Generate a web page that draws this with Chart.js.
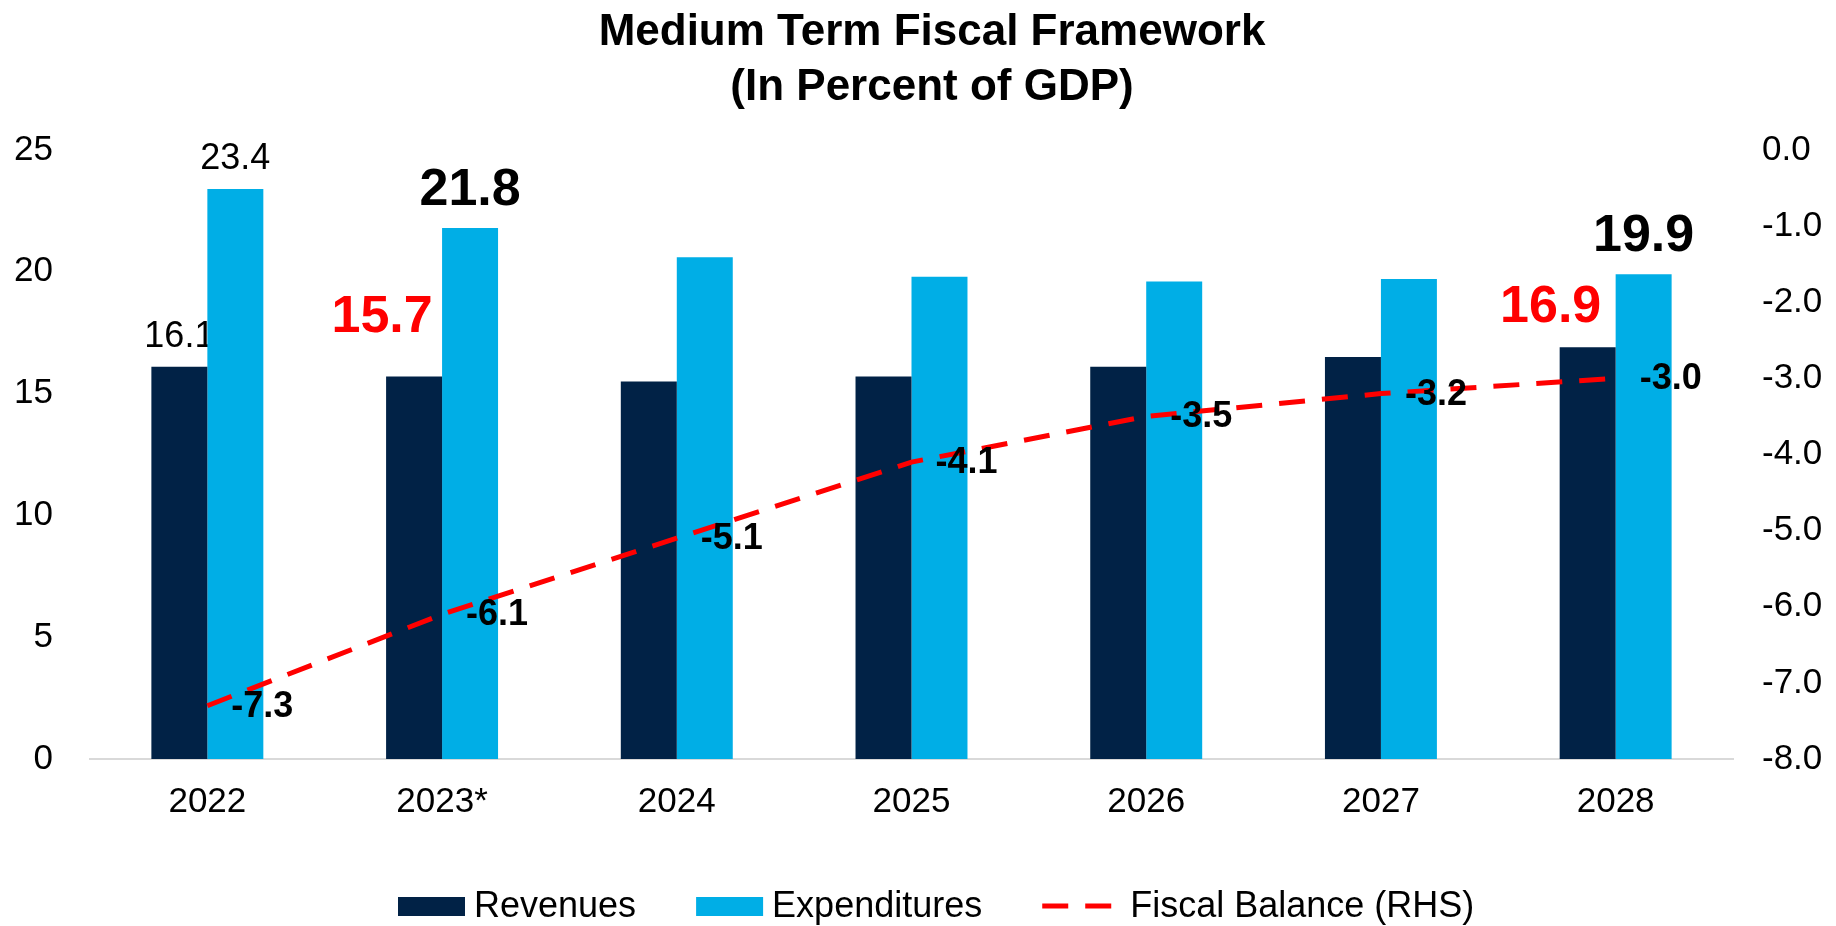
<!DOCTYPE html>
<html>
<head>
<meta charset="utf-8">
<title>Medium Term Fiscal Framework</title>
<script src="https://cdn.jsdelivr.net/npm/chart.js@4.4.0/dist/chart.umd.min.js"></script>
<style>
  html, body { margin: 0; padding: 0; background: #fff; }
</style>
</head>
<body>
<canvas id="fiscalChart" width="1836" height="926"></canvas>
<script>
// data
const years = ["2022", "2023*", "2024", "2025", "2026", "2027", "2028"];
const revenues = [16.1, 15.7, 15.5, 15.7, 16.1, 16.5, 16.9];
const expenditures = [23.4, 21.8, 20.6, 19.8, 19.6, 19.7, 19.9];
const fiscalBalance = [-7.3, -6.1, -5.1, -4.1, -3.5, -3.2, -3.0];
const leftTicks = [0, 5, 10, 15, 20, 25];
const rightTicks = [-8, -7, -6, -5, -4, -3, -2, -1, 0];

const FONT = "'Liberation Sans', Arial, sans-serif";
const NAVY = "#012246";
const CYAN = "#00AEE6";
const RED = "#FF0000";

// which points get a value label, and how it looks
const plain = { size: 36, weight: "normal", color: "#000", dx: 0, dy: -20 };
const bigBlack = { size: 52, weight: "bold", color: "#000", dx: 0, dy: -23 };
const bigRed = (dx, dy) => ({ size: 52, weight: "bold", color: RED, dx, dy });
const revenueLabels = { 0: plain, 1: bigRed(-32, -45), 6: bigRed(-37, -25) };
const expenditureLabels = { 0: plain, 1: bigBlack, 6: bigBlack };

function drawBarLabels(ctx, meta, values, styles) {
  meta.data.forEach((el, i) => {
    const s = styles[i];
    if (!s) return;
    ctx.font = `${s.weight} ${s.size}px ${FONT}`;
    ctx.fillStyle = s.color;
    ctx.textAlign = "center";
    ctx.textBaseline = "alphabetic";
    ctx.fillText(values[i].toFixed(1), el.x + s.dx, el.y + s.dy);
  });
}

const valueLabels = {
  id: "valueLabels",
  // revenue labels go down first so the expenditure bars can overlap them
  beforeDatasetsDraw(chart) {
    const ctx = chart.ctx;
    ctx.save();
    drawBarLabels(ctx, chart.getDatasetMeta(0), revenues, revenueLabels);
    ctx.restore();
  },
  afterDatasetDraw(chart, args) {
    const ctx = chart.ctx;
    ctx.save();
    if (args.index === 1) {
      drawBarLabels(ctx, args.meta, expenditures, expenditureLabels);
    } else if (args.index === 2) {
      ctx.font = `bold 36px ${FONT}`;
      ctx.fillStyle = "#000";
      ctx.textAlign = "left";
      ctx.textBaseline = "middle";
      args.meta.data.forEach((el, i) => {
        ctx.fillText(fiscalBalance[i].toFixed(1), el.x + 24, el.y + 1);
      });
    }
    ctx.restore();
  }
};

// legend drawn under the x axis
const bottomLegend = {
  id: "bottomLegend",
  afterDraw(chart) {
    const ctx = chart.ctx;
    const y = 906;
    let x = 398;
    ctx.save();
    ctx.font = `36px ${FONT}`;
    ctx.textBaseline = "middle";
    ctx.textAlign = "left";
    chart.data.datasets.forEach((ds) => {
      if (ds.type === "line") {
        ctx.strokeStyle = ds.borderColor;
        ctx.lineWidth = ds.borderWidth;
        ctx.setLineDash(ds.borderDash);
        ctx.beginPath();
        ctx.moveTo(x, y);
        ctx.lineTo(x + 70, y);
        ctx.stroke();
        ctx.setLineDash([]);
        x += 70 + 18;
      } else {
        ctx.fillStyle = ds.backgroundColor;
        ctx.fillRect(x, y - 9, 67, 19);
        x += 67 + 9;
      }
      ctx.fillStyle = "#000";
      ctx.fillText(ds.label, x, y + 1);
      x += ctx.measureText(ds.label).width + 60;
    });
    ctx.restore();
  }
};

const ctx = document.getElementById("fiscalChart").getContext("2d");
new Chart(ctx, {
  data: {
    labels: years,
    datasets: [
      {
        type: "bar",
        label: "Revenues",
        data: revenues,
        backgroundColor: NAVY,
        yAxisID: "y",
        order: 1,
        categoryPercentage: 0.477,
        barPercentage: 1.0
      },
      {
        type: "bar",
        label: "Expenditures",
        data: expenditures,
        backgroundColor: CYAN,
        yAxisID: "y",
        order: 1,
        categoryPercentage: 0.477,
        barPercentage: 1.0
      },
      {
        type: "line",
        label: "Fiscal Balance (RHS)",
        data: fiscalBalance,
        borderColor: RED,
        borderWidth: 5,
        borderDash: [26, 17],
        pointRadius: 0,
        tension: 0,
        fill: false,
        yAxisID: "y1",
        order: 0
      }
    ]
  },
  options: {
    responsive: false,
    devicePixelRatio: 1,
    animation: false,
    // negative right padding widens the title box so the title sits a little right of centre
    layout: { padding: { left: 0, right: -28, top: 0, bottom: 81 } },
    plugins: {
      legend: { display: false },
      tooltip: { enabled: false },
      title: {
        display: true,
        text: ["Medium Term Fiscal Framework", "(In Percent of GDP)"],
        color: "#000",
        font: { family: FONT, size: 44, weight: "bold", lineHeight: 1.25 },
        padding: { top: 5, bottom: 35 }
      }
    },
    scales: {
      x: {
        grid: { display: false, drawTicks: false },
        border: { display: true, color: "#D9D9D9", width: 2 },
        ticks: { color: "#000", font: { family: FONT, size: 35 }, padding: 22 }
      },
      y: {
        position: "left",
        min: leftTicks[0],
        max: leftTicks[leftTicks.length - 1],
        grid: { display: false, drawTicks: false },
        border: { display: false },
        afterBuildTicks: (scale) => { scale.ticks = leftTicks.map((v) => ({ value: v })); },
        afterFit: (scale) => { scale.width = 90; },
        ticks: { color: "#000", font: { family: FONT, size: 35 }, padding: 37 }
      },
      y1: {
        position: "right",
        min: rightTicks[0],
        max: rightTicks[rightTicks.length - 1],
        grid: { display: false, drawTicks: false },
        border: { display: false },
        afterBuildTicks: (scale) => { scale.ticks = rightTicks.map((v) => ({ value: v })); },
        afterFit: (scale) => { scale.width = 131; },
        ticks: {
          color: "#000",
          font: { family: FONT, size: 35 },
          padding: 29,
          callback: (v) => Number(v).toFixed(1)
        }
      }
    }
  },
  plugins: [valueLabels, bottomLegend]
});
</script>
</body>
</html>
